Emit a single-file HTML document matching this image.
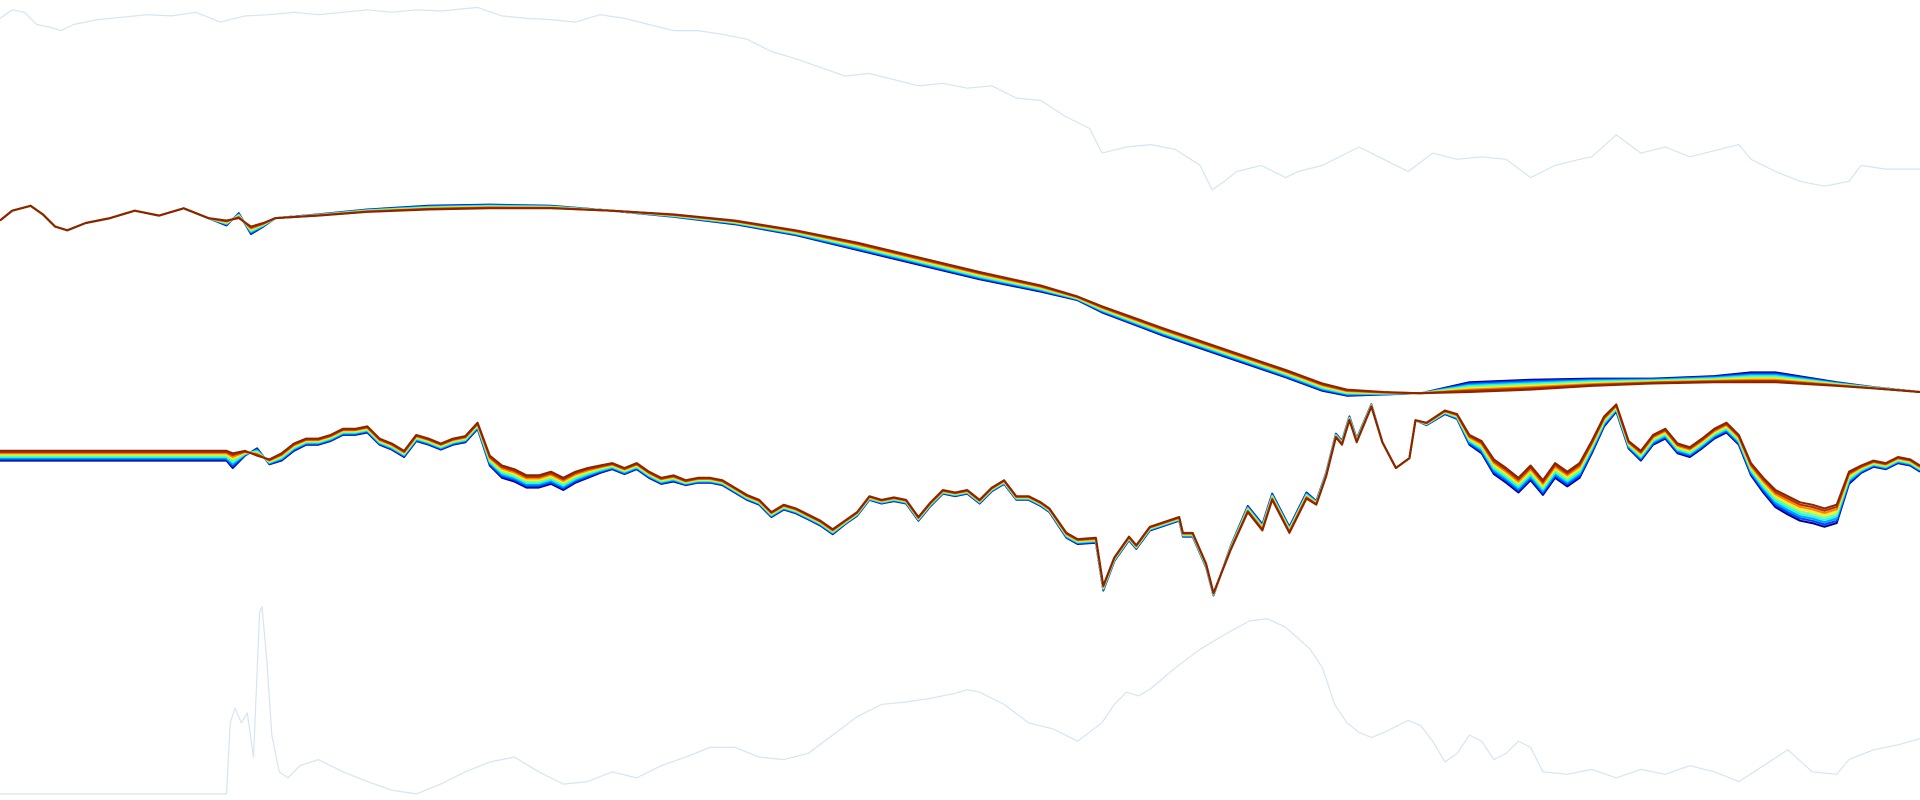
<!DOCTYPE html>
<html><head><meta charset="utf-8"><style>
html,body{margin:0;padding:0;background:#fff;width:1920px;height:800px;overflow:hidden}
svg{display:block}
</style></head><body>
<svg id="chart" width="1920" height="800" viewBox="0 0 1920 800"></svg>
<script>
const topX=[0,10,20,30,40,50,60,80,100,120,140,160,180,200,220,240,260,280,300,320,340,360,390,410,430,450,470,490,510,530,550,570,590,610,630,650,670,690,710,730,750,770,790,810,830,850,870,890,900,920,940,960,980,990,1000,1010,1030,1050,1060,1080,1100,1110,1130,1150,1170,1190,1210,1230,1250,1270,1290,1300,1320,1340,1360,1380,1400,1420,1430,1450,1470,1490,1510,1520,1540,1568];
const topY=[15,8,10,20,22,25,20,16,14,12,13,10,18,13,12,10,12,10,8,10,8,9,6,13,15,16,18,12,15,20,25,25,28,32,42,48,55,62,60,65,70,68,72,70,80,82,95,105,125,120,118,122,135,155,148,140,135,145,140,135,125,120,130,140,125,130,128,130,145,135,130,128,110,125,120,128,123,118,130,140,148,152,148,135,138,138];
const midX=[0,10,25,35,45,55,70,90,110,130,150,170,185,195,205,215,225,260,300,350,400,450,500,550,600,650,700,750,800,850,880,900,950,1000,1050,1080,1100,1130,1160,1200,1250,1300,1350,1400,1430,1450,1500,1530,1568];
const midY=[180,172,168,175,185,188,182,178,172,176,170,178,180,178,185,182,178,176,173,171,170,170,172,175,180,188,198,210,222,233,242,250,268,285,302,313,318,320,321,320,318,315,313,312,312,312,315,317,320];
const midSpread=[0,0,0,0,0,0,0,0,0,0,0,0,4,-4,6,3,0,-1,-2,-3,-3,-2,0,2,3,4,6,6,6,5,3,5,6,6,6,6,5,2,0,-8,-8,-6,-4,-5,-8,-8,-3,-1,0];
const lowX=[0,185,190,200,210,220,230,240,250,260,270,280,290,300,310,320,330,340,350,360,370,380,390,400,410,420,430,440,450,460,470,480,490,500,510,520,530,540,550,560,570,580,590,600,610,620,630,640,650,660,670,680,690,700,710,720,730,740,750,760,770,780,790,800,810,820,830,840,850,857,871,880,895,901,910,922,928,939,963,966,974,985,991,1005,1019,1031,1039,1053,1067,1075,1083,1091,1096,1102,1108,1120,1129,1140,1151,1156,1165,1180,1190,1200,1210,1220,1230,1240,1250,1260,1270,1280,1290,1300,1310,1320,1330,1340,1350,1360,1370,1380,1390,1400,1410,1420,1430,1440,1450,1460,1470,1480,1490,1500,1510,1520,1530,1540,1550,1560,1568];
const lowY=[368,368,370,368,372,375,370,362,358,358,355,350,350,348,358,362,368,355,358,362,358,356,345,372,380,383,388,388,385,390,385,382,380,378,382,378,385,390,388,392,390,390,392,398,404,408,418,412,415,420,425,432,425,418,405,408,406,408,422,410,400,402,400,408,398,392,405,405,410,415,435,440,439,478,455,438,445,430,422,435,435,460,484,449,418,433,408,435,407,412,389,357,363,343,361,332,361,382,374,343,345,335,338,355,360,375,382,390,380,392,378,385,378,360,340,330,360,368,355,350,362,365,358,350,345,355,378,390,400,405,410,412,415,412,385,380,376,378,373,375,380];
const lowSpread=[8,8,12,4,-6,4,6,6,5,5,5,5,5,5,5,5,5,5,5,5,5,5,5,8,10,10,10,10,10,10,9,8,6,5,5,5,5,5,5,4,4,4,4,4,4,4,4,4,4,4,4,4,3,3,3,3,3,3,3,3,3,3,3,3,3,3,3,3,3,3,4,4,4,4,3,3,3,3,3,3,3,3,2,-3,-5,-5,-5,-5,-5,-3,-3,-3,-3,-3,-3,-2,0,0,0,0,2,3,4,8,10,12,12,12,12,12,12,12,12,10,8,6,6,8,8,8,8,8,8,8,8,8,10,12,14,15,15,15,15,15,10,6,5,5,5,5,5];
const botX=[0,185,188,192,197,202,207,212,214,218,222,228,235,245,260,280,300,320,340,360,380,400,420,440,460,480,500,520,540,560,580,600,620,640,660,680,700,720,740,760,780,790,800,820,840,860,880,900,910,920,930,940,960,980,1000,1020,1035,1050,1070,1080,1090,1100,1110,1120,1130,1150,1160,1170,1180,1190,1200,1210,1220,1230,1240,1250,1260,1280,1300,1320,1340,1360,1380,1400,1420,1440,1460,1480,1500,1510,1530,1550,1568];
const botY=[648,648,590,578,590,582,618,500,495,540,600,630,635,625,620,630,638,645,648,640,630,622,618,630,640,638,630,635,625,618,610,610,618,620,615,600,585,575,573,570,566,563,565,575,590,595,605,590,575,565,568,562,545,530,518,507,505,512,530,545,575,590,598,602,598,588,592,605,622,615,600,605,620,615,605,610,630,632,628,635,628,632,625,630,638,625,612,630,632,620,612,608,603];
const jet=['#00008f','#0040ff','#00a0ff','#10ffef','#80ff80','#ffef10','#ff8000','#b03000','#8b2500'];
const NS="http://www.w3.org/2000/svg";
const svg=document.getElementById('chart');
const sx=v=>v*1920/1568, sy=v=>v*800/653;
function path(xs,ys,off,k){let d='';const n=Math.min(xs.length,ys.length);for(let i=0;i<n;i++){d+=(i?'L':'M')+sx(xs[i]).toFixed(1)+','+sy(ys[i]+(off?(off[i]||0)*k:0)).toFixed(1);}return d;}
function add(d,color,w,name){const p=document.createElementNS(NS,'path');p.setAttribute('d',d);p.setAttribute('fill','none');p.setAttribute('stroke',color);p.setAttribute('stroke-width',w);p.setAttribute('stroke-linejoin','round');


svg.appendChild(p);}
add(path(topX,topY),'#d4e5f3',1.2,'top-light-series');
add(path(botX,botY),'#d4e5f3',1.2,'bottom-light-series');
for(let j=0;j<jet.length;j++){const k=1-j/(jet.length-1);
add(path(midX,midY,midSpread,k),jet[j],2,'upper-band-line-'+j);
add(path(lowX,lowY,lowSpread,k),jet[j],2,'lower-band-line-'+j);}
</script>
</body></html>
